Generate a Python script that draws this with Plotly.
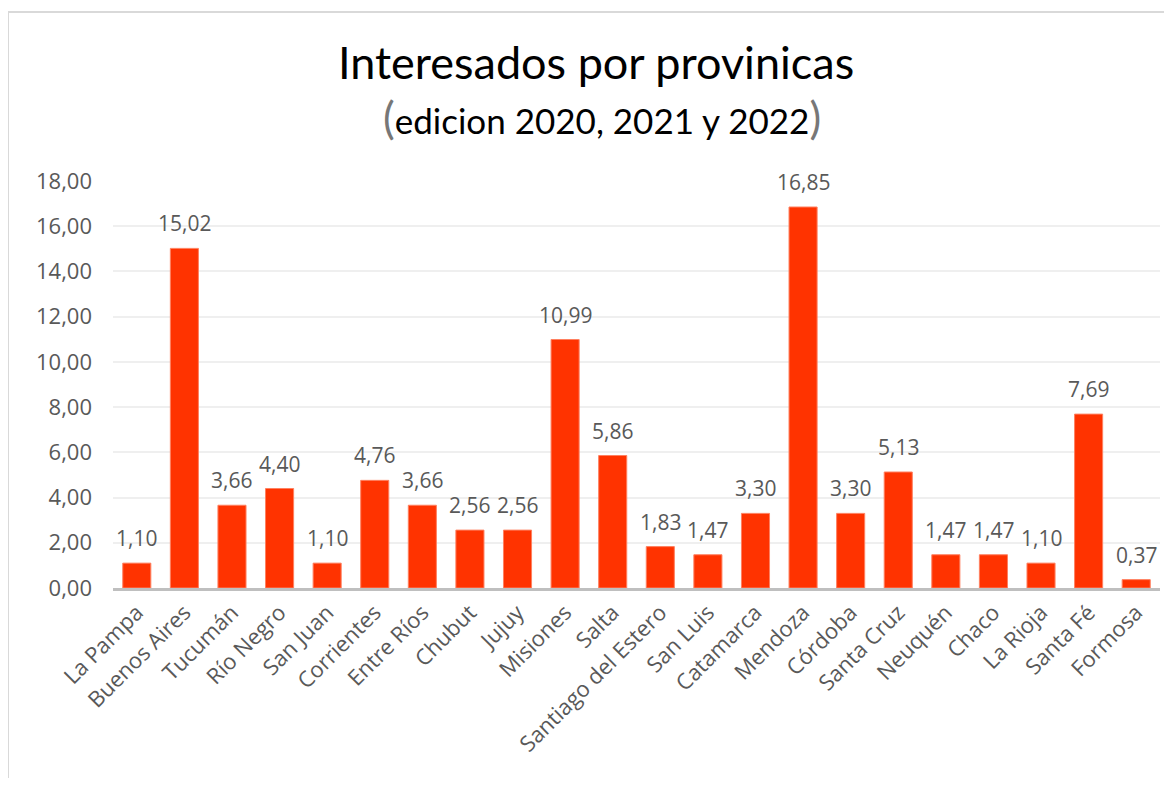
import plotly.graph_objects as go

provincias = ["La Pampa", "Buenos Aires", "Tucumán", "Río Negro", "San Juan", "Corrientes",
              "Entre Ríos", "Chubut", "Jujuy", "Misiones", "Salta", "Santiago del Estero",
              "San Luis", "Catamarca", "Mendoza", "Córdoba", "Santa Cruz", "Neuquén",
              "Chaco", "La Rioja", "Santa Fé", "Formosa"]
valores = [1.10, 15.02, 3.66, 4.40, 1.10, 4.76, 3.66, 2.56, 2.56, 10.99, 5.86, 1.83,
           1.47, 3.30, 16.85, 3.30, 5.13, 1.47, 1.47, 1.10, 7.69, 0.37]
y_ticks = [0, 2, 4, 6, 8, 10, 12, 14, 16, 18]

OFF = 8  # page body margin
W, H = 1172 - 2 * OFF, 786 - 2 * OFF
ML = 113 - OFF
MT = 181 - OFF
MR = W - (1160 - OFF)
MB = H - (588 - OFF)
pw, ph = W - ML - MR, H - MT - MB

def px_x(x):
    return (x - OFF - ML) / pw

def px_y(y):
    return (H - MB - (y - OFF)) / ph

font_main = "Lato, Open Sans, sans-serif"
font_ticks = "Open Sans, Noto Sans, sans-serif"
gray = "#595959"

fig = go.Figure(go.Bar(
    x=provincias, y=valores,
    marker=dict(color="#FF3300", line=dict(color="#FF8060", width=1)),
    cliponaxis=False,
))

annots = [dict(x=p, y=v, text=f"{v:.2f}".replace(".", ","), showarrow=False,
               xref="x", yref="y", yanchor="bottom", yshift=9,
               font=dict(family=font_ticks, size=21, color=gray))
          for p, v in zip(provincias, valores)]

annots += [
    dict(text="Interesados por provinicas", x=px_x(596), y=px_y(62), xref="paper", yref="paper",
         showarrow=False, font=dict(family=font_main, size=45, color="black"),
         xanchor="center", yanchor="middle"),
    dict(text="<span style='font-size:44px;color:#777'>(</span>edicion 2020, 2021 y 2022<span style='font-size:44px;color:#777'>)</span>",
         x=px_x(602), y=px_y(117), xref="paper", yref="paper",
         showarrow=False, font=dict(family=font_main, size=35, color="black"),
         xanchor="center", yanchor="middle"),
]

fig.update_layout(
    width=W, height=H,
    margin=dict(l=ML, r=MR, t=MT, b=MB),
    paper_bgcolor="white", plot_bgcolor="white",
    separators=",.",
    bargap=0.41,
    showlegend=False,
    xaxis=dict(tickangle=-45, tickfont=dict(family=font_ticks, size=22, color=gray),
               showline=True, linecolor="#bfbfbf", linewidth=3, ticks="", showgrid=False),
    yaxis=dict(range=[0, 18], tickvals=y_ticks, tickformat=".2f",
               tickfont=dict(family=font_ticks, size=22, color=gray),
               ticklabelstandoff=20,
               showgrid=True, gridcolor="#efefef", gridwidth=2, zeroline=False,
               ticks="", showline=False),
    shapes=[dict(type="rect", xref="paper", yref="paper",
                 x0=px_x(8), x1=px_x(1200), y0=px_y(12), y1=px_y(820),
                 line=dict(color="#d9d9d9", width=2), layer="below")],
    annotations=annots,
)

fig.write_html("out.html")
